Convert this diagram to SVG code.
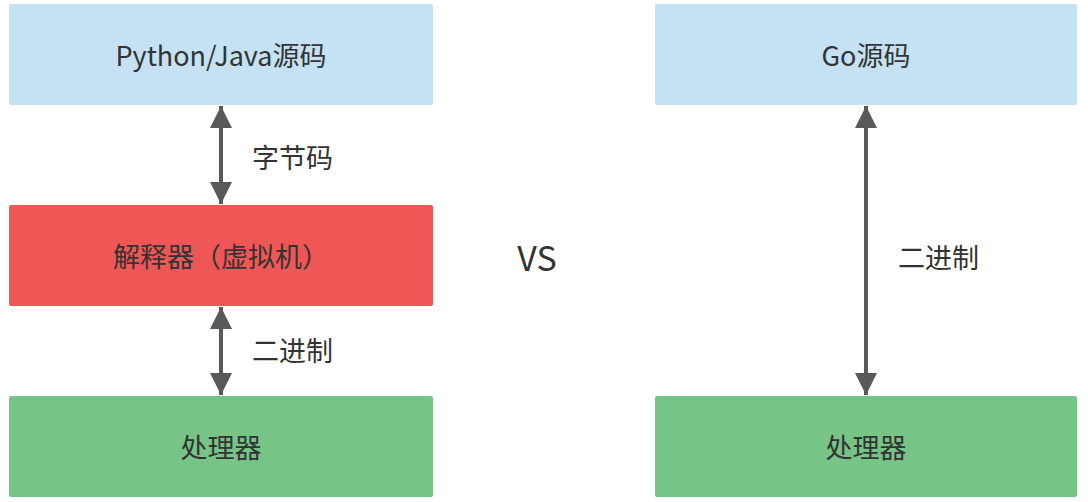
<svg xmlns="http://www.w3.org/2000/svg" width="1088" height="502" viewBox="0 0 1088 502">
<style>
.t{font-family:"Noto Sans CJK SC","Noto Sans",sans-serif;font-size:27px;fill:#333;text-anchor:middle;dominant-baseline:central}
.l{font-family:"Noto Sans CJK SC","Noto Sans",sans-serif;font-size:27px;fill:#333;dominant-baseline:central}
.c{stroke:#595959;stroke-width:4;fill:none;marker-start:url(#a);marker-end:url(#a)}
</style>
<defs>
<marker id="a" viewBox="0 0 10 10" refX="10" refY="5" markerWidth="5.5" markerHeight="5.5" orient="auto-start-reverse" markerUnits="strokeWidth">
<path d="M0,0L10,5L0,10z" fill="#595959"/>
</marker>
</defs>
<rect width="1088" height="502" fill="#fff"/>
<g id="n1"><rect x="9" y="4" width="424" height="101" rx="2" fill="#c4e2f4"/><text class="t" x="221" y="54">Python/Java源码</text></g>
<g id="n2"><rect x="9" y="205" width="424" height="101" rx="2" fill="#ef5656"/><text class="t" x="221" y="255">解释器（虚拟机）</text></g>
<g id="n3"><rect x="9" y="396" width="424" height="101" rx="2" fill="#77c487"/><text class="t" x="221" y="446">处理器</text></g>
<g id="n4"><rect x="655" y="4" width="422" height="101" rx="2" fill="#c4e2f4"/><text class="t" x="866" y="54">Go源码</text></g>
<g id="n5"><rect x="655" y="396" width="422" height="101" rx="2" fill="#77c487"/><text class="t" x="866" y="446">处理器</text></g>
<g id="vs"><text class="t" x="537" y="256" style="font-size:34px">VS</text></g>
<g id="connectors">
<line class="c" x1="221" y1="106" x2="221" y2="204"/>
<line class="c" x1="221" y1="307" x2="221" y2="395"/>
<line class="c" x1="866" y1="106" x2="866" y2="395"/>
<text class="l" x="252" y="156">字节码</text>
<text class="l" x="252" y="349">二进制</text>
<text class="l" x="898" y="256">二进制</text>
</g>
</svg>
